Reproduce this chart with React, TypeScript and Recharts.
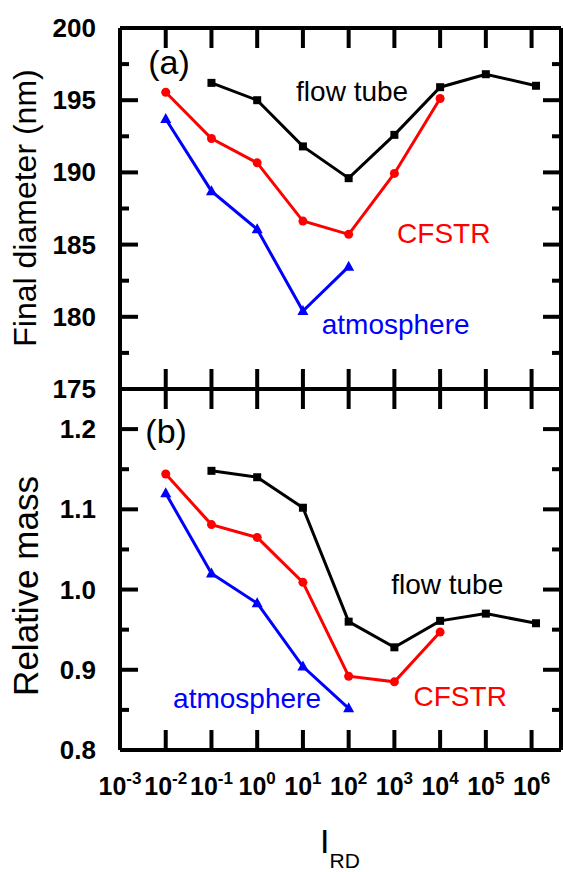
import React from 'react';
import { LineChart, Line, XAxis, YAxis, ReferenceDot } from 'recharts';

// ---------- data ----------
const xTicks = [1e-3, 1e-2, 1e-1, 1, 10, 100, 1e3, 1e4, 1e5, 1e6];
const xDomain = [1e-3, 4.4e6];

const flowTubeX = [0.1, 1, 10, 100, 1e3, 1e4, 1e5, 1.25e6];
const flowTubeDiameter = [196.2, 195.0, 191.8, 189.6, 192.6, 195.9, 196.8, 196.0];
const flowTubeMass = [1.148, 1.14, 1.102, 0.96, 0.928, 0.961, 0.97, 0.958];

const cfstrX = [0.01, 0.1, 1, 10, 100, 1e3, 1e4];
const cfstrDiameter = [195.55, 192.35, 190.66, 186.63, 185.71, 189.93, 195.12];
const cfstrMass = [1.144, 1.081, 1.065, 1.009, 0.892, 0.885, 0.947];

const atmosX = [0.01, 0.1, 1, 10, 100];
const atmosDiameter = [193.7, 188.7, 186.06, 180.4, 183.47];
const atmosMass = [1.12, 1.02, 0.983, 0.904, 0.852];

const diameterTicks = [175, 177.5, 180, 182.5, 185, 187.5, 190, 192.5, 195, 197.5, 200];
const diameterDomain = [175, 200];
const massTicks = [0.8, 0.85, 0.9, 0.95, 1.0, 1.05, 1.1, 1.15, 1.2];
const massDomain = [0.8, 1.25];

const topNotes = [
  { text: '(a)', x: 0.0118, y: 197.65, color: '#000', size: 34 },
  { text: 'flow tube', x: 119, y: 195.64, color: '#000', size: 28 },
  { text: 'CFSTR', x: 12000, y: 185.8, color: '#ff0000', size: 28 },
  { text: 'atmosphere', x: 1067, y: 179.5, color: '#0000ff', size: 28 },
];
const bottomNotes = [
  { text: '(b)', x: 0.0102, y: 1.1975, color: '#000', size: 34 },
  { text: 'flow tube', x: 14300, y: 1.0075, color: '#000', size: 28 },
  { text: 'CFSTR', x: 27500, y: 0.8675, color: '#ff0000', size: 28 },
  { text: 'atmosphere', x: 0.6, y: 0.865, color: '#0000ff', size: 28 },
];

const pts = (xs: number[], ys: number[]) => xs.map((x, i) => ({ x, y: ys[i] }));

// ---------- styles ----------
const FONT = '"Liberation Sans", Arial, sans-serif';
const BLACK = '#000000';
const RED = '#ff0000';
const BLUE = '#0000ff';
const FRAME_W = 4;

// ---------- tick renderers ----------
const xTickBottom = (withLabel: boolean) => (props: any) => {
  const { x, y, payload } = props;
  const exp = Math.round(Math.log10(payload.value));
  return (
    <g>
      <line x1={x} x2={x} y1={y} y2={y - 20} stroke={BLACK} strokeWidth={FRAME_W} />
      {withLabel && (
        <text x={x} y={y + 45} textAnchor="middle" fontFamily={FONT} fontWeight="bold" fontSize={25} fill={BLACK}>
          10
          <tspan dy={-11} fontSize={17}>{String(exp)}</tspan>
        </text>
      )}
    </g>
  );
};

const xTickTop = (props: any) => {
  const { x, y } = props;
  return (
    <g>
      <line x1={x} x2={x} y1={y} y2={y + 20} stroke={BLACK} strokeWidth={FRAME_W} />
    </g>
  );
};

const yTickLeft = (isMajor: (v: number) => boolean, fmt: (v: number) => string) => (props: any) => {
  const { x, y, payload } = props;
  const major = isMajor(payload.value);
  return (
    <g>
      <line x1={x} x2={x + (major ? 18 : 9)} y1={y} y2={y} stroke={BLACK} strokeWidth={FRAME_W} />
      {major && (
        <text x={x - 24} y={y + 9} textAnchor="end" fontFamily={FONT} fontWeight="bold" fontSize={26} fill={BLACK}>
          {fmt(payload.value)}
        </text>
      )}
    </g>
  );
};

const yTickRight = (isMajor: (v: number) => boolean) => (props: any) => {
  const { x, y, payload } = props;
  const major = isMajor(payload.value);
  return (
    <g>
      <line x1={x} x2={x - (major ? 18 : 9)} y1={y} y2={y} stroke={BLACK} strokeWidth={FRAME_W} />
    </g>
  );
};

const diamMajor = (v: number) => Math.abs(v % 5) < 1e-6;
const massMajor = (v: number) => Math.round(v * 100) % 10 === 0;

// ---------- markers ----------
const squareDot = (props: any) => {
  const { cx, cy, index } = props;
  return <rect key={`sq-${index}`} x={cx - 4} y={cy - 4} width={8} height={8} fill={BLACK} />;
};
const circleDot = (props: any) => {
  const { cx, cy, index } = props;
  return <circle key={`ci-${index}`} cx={cx} cy={cy} r={4.5} fill={RED} />;
};
const triDot = (props: any) => {
  const { cx, cy, index } = props;
  return (
    <polygon
      key={`tr-${index}`}
      points={`${cx},${cy - 6} ${cx - 5.5},${cy + 4} ${cx + 5.5},${cy + 4}`}
      fill={BLUE}
    />
  );
};

const noteLabel = (text: string, color: string, size: number) => (props: any) => {
  const vb = props.viewBox || {};
  const cx = (vb.x ?? 0) + (vb.width ?? 0) / 2;
  const cy = (vb.y ?? 0) + (vb.height ?? 0) / 2;
  return (
    <text x={cx} y={cy + size * 0.36} textAnchor="middle" fontFamily={FONT} fontSize={size} fill={color}>
      {text}
    </text>
  );
};

const axisLineStyle = { stroke: BLACK, strokeWidth: FRAME_W };

function Panel(props: {
  width: number;
  height: number;
  margin: any;
  yDomain: number[];
  yTicks: number[];
  isMajor: (v: number) => boolean;
  fmt: (v: number) => string;
  showXLabels: boolean;
  ft: number[];
  cf: number[];
  at: number[];
  notes: any[];
}) {
  const { width, height, margin, yDomain, yTicks, isMajor, fmt, showXLabels, ft, cf, at, notes } = props;
  return (
    <LineChart width={width} height={height} margin={margin} style={{ overflow: 'visible' }}>
      <XAxis
        xAxisId="b"
        dataKey="x"
        type="number"
        scale="log"
        domain={xDomain}
        allowDataOverflow
        ticks={xTicks}
        interval={0}
        orientation="bottom"
        height={2}
        tickSize={0}
        tickMargin={0}
        tickLine={false}
        axisLine={axisLineStyle}
        tick={xTickBottom(showXLabels)}
      />
      <XAxis
        xAxisId="t"
        dataKey="x"
        type="number"
        scale="log"
        domain={xDomain}
        allowDataOverflow
        ticks={xTicks}
        interval={0}
        orientation="top"
        height={2}
        tickSize={0}
        tickMargin={0}
        tickLine={false}
        axisLine={axisLineStyle}
        tick={xTickTop}
      />
      <YAxis
        yAxisId="l"
        type="number"
        domain={yDomain}
        allowDataOverflow
        ticks={yTicks}
        interval={0}
        orientation="left"
        width={60}
        tickSize={0}
        tickMargin={0}
        tickLine={false}
        axisLine={axisLineStyle}
        tick={yTickLeft(isMajor, fmt)}
      />
      <YAxis
        yAxisId="r"
        type="number"
        domain={yDomain}
        allowDataOverflow
        ticks={yTicks}
        interval={0}
        orientation="right"
        width={2}
        tickSize={0}
        tickMargin={0}
        tickLine={false}
        axisLine={axisLineStyle}
        tick={yTickRight(isMajor)}
      />
      <Line
        xAxisId="b"
        yAxisId="l"
        data={pts(flowTubeX, ft)}
        dataKey="y"
        stroke={BLACK}
        strokeWidth={3}
        dot={squareDot}
        activeDot={false}
        isAnimationActive={false}
      />
      <Line
        xAxisId="b"
        yAxisId="l"
        data={pts(cfstrX, cf)}
        dataKey="y"
        stroke={RED}
        strokeWidth={3}
        dot={circleDot}
        activeDot={false}
        isAnimationActive={false}
      />
      <Line
        xAxisId="b"
        yAxisId="l"
        data={pts(atmosX, at)}
        dataKey="y"
        stroke={BLUE}
        strokeWidth={3}
        dot={triDot}
        activeDot={false}
        isAnimationActive={false}
      />
      {notes.map((n) => (
        <ReferenceDot
          key={n.text}
          xAxisId="b"
          yAxisId="l"
          x={n.x}
          y={n.y}
          r={1}
          fill="none"
          stroke="none"
          ifOverflow="visible"
          label={noteLabel(n.text, n.color, n.size)}
        />
      ))}
    </LineChart>
  );
}

export default function App() {
  return (
    <div style={{ position: 'absolute', left: 0, top: 0, width: 563, height: 872, background: '#fff', overflow: 'hidden' }}>
      <div style={{ position: 'absolute', left: 0, top: 0 }}>
        <Panel
          width={563}
          height={410}
          margin={{ top: 26, right: 0, bottom: 19, left: 60 }}
          yDomain={diameterDomain}
          yTicks={diameterTicks}
          isMajor={diamMajor}
          fmt={(v) => String(v)}
          showXLabels={false}
          ft={flowTubeDiameter}
          cf={cfstrDiameter}
          at={atmosDiameter}
          notes={topNotes}
        />
      </div>
      <div style={{ position: 'absolute', left: 0, top: 370 }}>
        <Panel
          width={563}
          height={502}
          margin={{ top: 17, right: 0, bottom: 120, left: 60 }}
          yDomain={massDomain}
          yTicks={massTicks}
          isMajor={massMajor}
          fmt={(v) => v.toFixed(1)}
          showXLabels={true}
          ft={flowTubeMass}
          cf={cfstrMass}
          at={atmosMass}
          notes={bottomNotes}
        />
      </div>
      <svg width={563} height={872} style={{ position: 'absolute', left: 0, top: 0, pointerEvents: 'none' }}>
        <text
          x={25}
          y={208}
          transform="rotate(-90, 25, 208)"
          textAnchor="middle"
          dominantBaseline="central"
          fontFamily={FONT}
          fontSize={32}
          fill={BLACK}
        >
          Final diameter (nm)
        </text>
        <text
          x={25}
          y={586}
          transform="rotate(-90, 25, 586)"
          textAnchor="middle"
          dominantBaseline="central"
          fontFamily={FONT}
          fontSize={35}
          fill={BLACK}
        >
          Relative mass
        </text>
        <text x={340} y={853} textAnchor="middle" fontFamily={FONT} fontSize={34} fill={BLACK}>
          I
          <tspan dy={15} fontSize={21}>RD</tspan>
        </text>
      </svg>
    </div>
  );
}
